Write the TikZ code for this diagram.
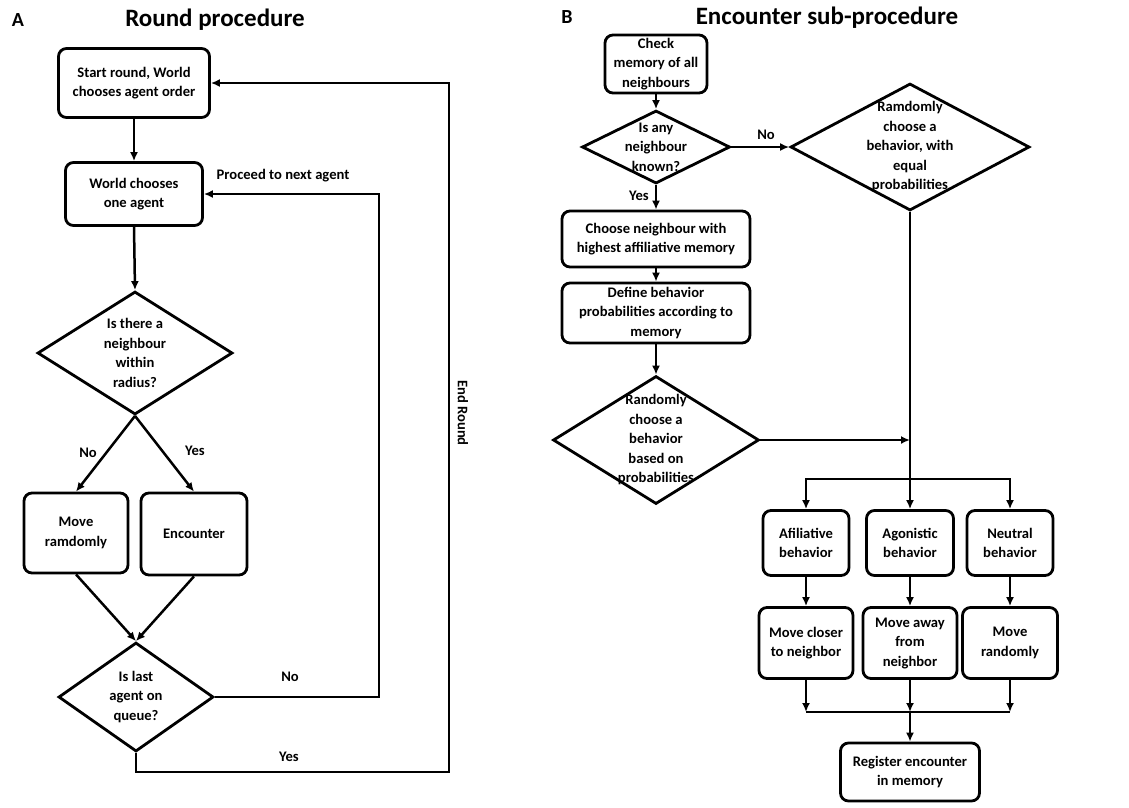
\documentclass[tikz,border=0pt]{standalone}
\usepackage{fontspec}
\setmainfont{Carlito}
\usetikzlibrary{shapes.geometric,arrows.meta}
\newcommand\boxfont{\fontsize{14.6}{19.5}\selectfont\bfseries}
\newcommand\headfont{\fontsize{25}{29}\selectfont\bfseries}

\begin{document}
\begin{tikzpicture}[x=1pt, y=-1pt,
    box/.style={draw, line width=2.8pt, rounded corners=8pt, align=center, inner sep=1pt, font=\boxfont},
    decision/.style={draw, diamond, line width=2.8pt, inner sep=0pt},
    txt/.style={align=center, font=\boxfont},
    arr/.style={line width=2.5pt, -{Latex[length=9pt,width=8pt]}},
    link/.style={line width=2.5pt}]
    \useasboundingbox (0,0) rectangle (1129,807);
    % panel A: round procedure
    \node[font=\fontsize{20}{24}\selectfont\bfseries] (tagA) at (18,20) {A};
    \node[font=\headfont] (titleA) at (215,20) {Round procedure};
    \node[box, minimum width=151, minimum height=69] (start) at (134,83) {Start round, World\\chooses agent order};
    \node[box, minimum width=137, minimum height=63] (pick) at (134,194) {World chooses\\one agent};
    \node[decision, minimum width=195, minimum height=123, label={[txt]center:{Is there a\\neighbour\\within\\radius?}}] (radius) at (135,353) {};
    \node[box, minimum width=104, minimum height=80] (move) at (76,533) {Move\\ramdomly};
    \node[box, minimum width=106, minimum height=82] (enc) at (194,534) {Encounter};
    \node[decision, minimum width=155, minimum height=109, label={[txt]center:{Is last\\agent on\\queue?}}] (last) at (136,697) {};
    \coordinate (nextx) at (379,400);
    \coordinate (loop) at (449,772);
    \draw[arr] (start) -- (pick);
    \draw[arr] (pick.south) -- (radius.north);
    \draw[arr] (radius.south) -- (move.north);
    \draw[arr] (radius.south) -- (enc.north);
    \draw[arr] (move.south) -- (last.north);
    \draw[arr] (enc.south) -- (last.north);
    \draw[arr] (last.east) -| (nextx) |- (pick.east);
    \draw[arr] (last.south) |- (loop) |- (start.east);
    \node[txt] (no1) at (88,453) {No};
    \node[txt] (yes1) at (195,451) {Yes};
    \node[txt] (proceed) at (283,176) {Proceed to next agent};
    \node[txt] (no2) at (290,677) {No};
    \node[txt] (yes2) at (289,757) {Yes};
    \node[txt, rotate=-90] (endround) at (463,413) {End Round};
    % panel B: encounter sub-procedure
    \node[font=\fontsize{20}{24}\selectfont\bfseries] (tagB) at (567,17) {B};
    \node[font=\headfont] (titleB) at (827,18) {Encounter sub-procedure};
    \node[box, minimum width=102, minimum height=58] (check) at (656,64) {Check\\memory of all\\neighbours};
    \node[decision, minimum width=148, minimum height=73, label={[txt]center:{Is any\\neighbour\\known?}}] (known) at (656,147) {};
    \node[decision, minimum width=239, minimum height=127, label={[txt]center:{Ramdomly\\choose a\\behavior, with\\equal\\probabilities}}] (equal) at (910,147) {};
    \node[box, minimum width=188, minimum height=56] (highest) at (656,239) {Choose neighbour with\\highest affiliative memory};
    \node[box, minimum width=188, minimum height=60] (define) at (656,313) {Define behavior\\probabilities according to\\memory};
    \node[decision, minimum width=206, minimum height=128, label={[txt]center:{Randomly\\choose a\\behavior\\based on\\probabilities}}] (based) at (656,440) {};
    \node[box, minimum width=86, minimum height=65] (afil) at (806,543) {Afiliative\\behavior};
    \node[box, minimum width=87, minimum height=65] (agon) at (910,543) {Agonistic\\behavior};
    \node[box, minimum width=86, minimum height=65] (neut) at (1010,543) {Neutral\\behavior};
    \node[box, minimum width=94, minimum height=71] (closer) at (806,643) {Move closer\\to neighbor};
    \node[box, minimum width=94, minimum height=71] (away) at (910,643) {Move away\\from\\neighbor};
    \node[box, minimum width=95, minimum height=71] (rand) at (1010,643) {Move\\randomly};
    \node[box, minimum width=139, minimum height=58] (reg) at (910,772) {Register encounter\\in memory};
    \coordinate (merge) at (910,440);
    \coordinate (split) at (910,479);
    \coordinate (join) at (910,712);
    \draw[arr] (check) -- (known);
    \draw[arr] (known.east) -- (equal.west);
    \draw[arr] (known.south) -- (highest.north);
    \draw[arr] (highest) -- (define);
    \draw[arr] (define.south) -- (based.north);
    \draw[arr] (based.east) -- (merge);
    \draw[link] (equal.south) -- (split);
    \draw[arr] (split) -- (agon.north);
    \draw[arr] (split) -| (afil.north);
    \draw[arr] (split) -| (neut.north);
    \draw[arr] (afil) -- (closer);
    \draw[arr] (agon) -- (away);
    \draw[arr] (neut) -- (rand);
    \draw[arr] (closer.south) -- (closer.south |- join);
    \draw[arr] (away.south) -- (join);
    \draw[arr] (rand.south) -- (rand.south |- join);
    \draw[link] (closer.south |- join) -- (rand.south |- join);
    \draw[arr] (join) -- (reg.north);
    \node[txt] (no3) at (766,135) {No};
    \node[txt] (yes3) at (639,196) {Yes};
\end{tikzpicture}
\end{document}
